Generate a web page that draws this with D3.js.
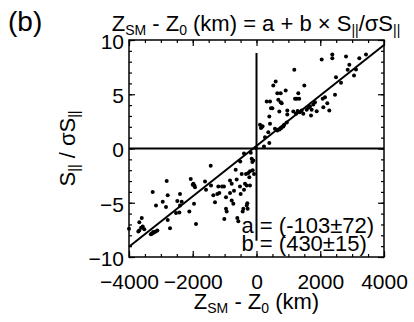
<!DOCTYPE html>
<html>
<head>
<meta charset="utf-8">
<script src="https://cdn.jsdelivr.net/npm/d3@7"></script>
<style>
  body { margin: 0; background: #fff; }
  svg { display: block; font-family: "Liberation Sans", Arial, sans-serif; }
  .axis path { display: none; }
  .axis line { stroke: #000; stroke-width: 1.2; }
  .axis text { font-size: 21px; fill: #000; }
</style>
</head>
<body>
<div id="chart"></div>
<script>
// axis ticks
const xMajor = [-4000, -2000, 0, 2000, 4000];
const yMajor = [-10, -5, 0, 5, 10];
const xMinor = d3.range(-4000, 4001, 500);
const yMinor = d3.range(-10, 11, 1);

// fit: Z_SM - Z_0 = a + b * S/sigmaS
const fitA = -103;
const fitB = 430;

// zero line extents (vertical line doesn't span whole plot)
const vLineY = [-8.5, 8.8];

// points, [Z_SM - Z_0 (km), S/sigmaS]
const pointsNeg = [
  [-4000,-7.4],[-3676,-6.8],[-3600,-6.4],[-3707,-7.65],[-3570,-7.2],[-3520,-7.45],[-3620,-7.3],[-3680,-7.55],
  [-3314,-7.9],[-3263,-7.8],[-3216,-7.75],[-3160,-7.65],[-3110,-7.55],[-3290,-7.85],[-3240,-7.7],
  [-3256,-4.0],[-3153,-5.25],[-2942,-4.9],[-2817,-3.0],[-2786,-4.3],[-2839,-5.4],[-2786,-6.6],[-2713,-7.35],
  [-2525,-5.95],[-2484,-4.85],[-2400,-4.2],[-2400,-5.25],[-2347,-4.9],[-2421,-5.9],
  [-2107,-5.8],[-2063,-2.8],[-2000,-3.35],[-1950,-3.4],[-1960,-5.1],[-1898,-6.95],[-1980,-3.25],[-1930,-3.56],
  [-1615,-3.05],[-1584,-3.8],[-1437,-1.6],[-1427,-3.4],[-1355,-4.3],[-1302,-4.95],[-1230,-4.2],[-1198,-3.5],
  [-1167,-4.1],[-1082,-3.5],[-1020,-3.5],[-1010,-6.5],[-957,-5.55],[-935,-5.8],[-957,-4.5],[-831,-4.1],
  [-831,-2.95],[-778,-3.25],[-778,-4.8],[-727,-5.1],[-706,-3.9],[-622,-2.85],[-653,-1.95],[-602,-6.4],
  [-571,-6.7],[-518,-3.5],[-497,-4.2],[-465,-2.35],[-434,-5.8],[-413,-5.55],[-392,-3.8],[-361,-3.25],
  [-392,-0.45],[-330,-2.35],[-308,-3.4],[-288,-5.05],[-277,-5.55],[-308,-5.25],[-225,-2.65],[-204,-3.4],
  [-151,-0.95],[-131,-1.25],[-100,-1.1],[-120,-2.0],[-78,-2.35],[-257,-2.25],[-204,-2.1],[-510,-1.2],
  [-180,-0.4],[-20,0.05]
];
const pointsPos = [
  [110,2.18],[163,1.97],[190,2.05],[140,1.9],[235,0.18],[267,1.04],[402,0.5],[370,1.5],[424,2.27],
  [402,2.95],[320,4.33],[424,4.33],[455,3.71],[496,3.71],[527,5.8],[602,6.17],[653,5.1],[759,5.1],
  [684,4.49],[759,4.27],[790,4.18],[716,3.41],[580,1.81],[653,1.66],[720,1.75],[769,1.87],[841,2.03],
  [870,2.2],[950,2.4],[916,5.35],[966,3.5],[966,3.13],[1155,3.41],[1186,7.25],[1208,4.58],[1261,4.58],
  [1311,5.1],[1340,4.58],[1239,3.2],[1290,3.45],[1360,3.35],[1418,3.5],[1500,5.8],[1468,3.2],[1574,3.57],
  [1625,3.75],[1678,3.87],[1710,3.04],[1731,3.57],[1782,4.06],[1835,4.27],[1888,3.44],[2045,8.2],
  [2077,4.58],[2096,3.81],[2149,4.73],[2221,4.18],[2284,3.5],[2378,8.66],[2378,8.32],[2463,4.95],
  [2494,6.57],[2651,6.06],[2808,8.48],[2861,7.25],[2912,7.71],[3059,6.73],[3121,7.28],[3225,8.32],[3435,8.66]
];

const config = {
  svgWidth: 414, svgHeight: 322,
  marginLeft: 129, marginRight: 30, marginTop: 40, marginBottom: 65
};
const chartWidth = config.svgWidth - config.marginLeft - config.marginRight;
const chartHeight = config.svgHeight - config.marginTop - config.marginBottom;

const svg = d3.select('#chart').append('svg')
  .attr('width', config.svgWidth)
  .attr('height', config.svgHeight);

const chart = svg.append('g')
  .attr('transform', `translate(${config.marginLeft}, ${config.marginTop})`);

const scaleX = d3.scaleLinear().domain([-4000, 4000]).range([0, chartWidth]);
const scaleY = d3.scaleLinear().domain([-10, 10]).range([chartHeight, 0]);

// minor ticks, all four sides, pointing in
chart.append('g').attr('class', 'axis').attr('transform', `translate(0, ${chartHeight})`)
  .call(d3.axisBottom(scaleX).tickValues(xMinor).tickSize(-3).tickFormat(''));
chart.append('g').attr('class', 'axis')
  .call(d3.axisTop(scaleX).tickValues(xMinor).tickSize(-3).tickFormat(''));
chart.append('g').attr('class', 'axis')
  .call(d3.axisLeft(scaleY).tickValues(yMinor).tickSize(-3).tickFormat(''));
chart.append('g').attr('class', 'axis').attr('transform', `translate(${chartWidth}, 0)`)
  .call(d3.axisRight(scaleY).tickValues(yMinor).tickSize(-3).tickFormat(''));

// major ticks with labels
chart.append('g').attr('class', 'axis').attr('transform', `translate(0, ${chartHeight})`)
  .call(d3.axisBottom(scaleX).tickValues(xMajor).tickSize(-6).tickFormat(d3.format('d')))
  .selectAll('text').attr('dy', '0.71em').attr('y', 17);
chart.append('g').attr('class', 'axis')
  .call(d3.axisTop(scaleX).tickValues(xMajor).tickSize(-6).tickFormat(''));
chart.append('g').attr('class', 'axis')
  .call(d3.axisLeft(scaleY).tickValues(yMajor).tickSize(-6).tickFormat(d3.format('d')))
  .selectAll('text').attr('x', -5).attr('dy', '0.4em');
chart.append('g').attr('class', 'axis').attr('transform', `translate(${chartWidth}, 0)`)
  .call(d3.axisRight(scaleY).tickValues(yMajor).tickSize(-6).tickFormat(''));

// frame
chart.append('rect')
  .attr('width', chartWidth).attr('height', chartHeight)
  .attr('fill', 'none').attr('stroke', '#000').attr('stroke-width', 1.5);

// zero lines
chart.append('line')
  .attr('x1', 0).attr('x2', chartWidth)
  .attr('y1', scaleY(0)).attr('y2', scaleY(0))
  .attr('stroke', '#000').attr('stroke-width', 2);
chart.append('line')
  .attr('x1', scaleX(0)).attr('x2', scaleX(0))
  .attr('y1', scaleY(vLineY[0])).attr('y2', scaleY(vLineY[1]))
  .attr('stroke', '#000').attr('stroke-width', 2);

// data points
chart.selectAll('.pt')
  .data(pointsNeg.concat(pointsPos))
  .join('circle')
  .attr('class', 'pt')
  .attr('cx', d => scaleX(d[0]))
  .attr('cy', d => scaleY(d[1]))
  .attr('r', 2)
  .attr('fill', '#000');

// fit line
const fitLine = d3.line()
  .x(d => scaleX(d))
  .y(d => scaleY((d - fitA) / fitB));
chart.append('path')
  .attr('d', fitLine([-4000, 4000]))
  .attr('fill', 'none')
  .attr('stroke', '#000')
  .attr('stroke-width', 2);

// annotation, two lines in one text block
const ann = chart.append('text').style('font-size', '22px');
ann.append('tspan').attr('x', scaleX(-470)).attr('y', scaleY(-7.8)).text('a = (-103\u00b172)');
ann.append('tspan').attr('x', scaleX(-470)).attr('y', scaleY(-9.42)).text('b = (430\u00b115)');

// subscript helper
function addRich(sel, parts, sub) {
  parts.forEach(p => {
    if (p.sub) {
      sel.append('tspan').attr('baseline-shift', '-30%').style('font-size', sub).text(p.t);
    } else {
      sel.append('tspan').text(p.t);
    }
  });
}

// title
const title = svg.append('text')
  .attr('x', 256).attr('y', 31)
  .attr('text-anchor', 'middle')
  .style('font-size', '22px');
addRich(title, [
  {t: 'Z'}, {t: 'SM', sub: true}, {t: ' - Z'}, {t: '0', sub: true},
  {t: ' (km) = a + b \u00d7 S'}, {t: '||', sub: true}, {t: '/\u03c3S'}, {t: '||', sub: true}
], '14px');

svg.append('text')
  .attr('x', 8).attr('y', 31)
  .style('font-size', '28px')
  .text('(b)');

// x label
const xLabel = svg.append('text')
  .attr('x', config.marginLeft + chartWidth / 2).attr('y', 309)
  .attr('text-anchor', 'middle')
  .style('font-size', '22px');
addRich(xLabel, [{t: 'Z'}, {t: 'SM', sub: true}, {t: ' - Z'}, {t: '0', sub: true}, {t: ' (km)'}], '14px');

// y label
const yLabel = svg.append('text')
  .attr('transform', `translate(75, ${config.marginTop + chartHeight / 2}) rotate(-90)`)
  .attr('text-anchor', 'middle')
  .style('font-size', '22px');
addRich(yLabel, [{t: 'S'}, {t: '||', sub: true}, {t: ' / \u03c3S'}, {t: '||', sub: true}], '14px');
</script>
</body>
</html>
